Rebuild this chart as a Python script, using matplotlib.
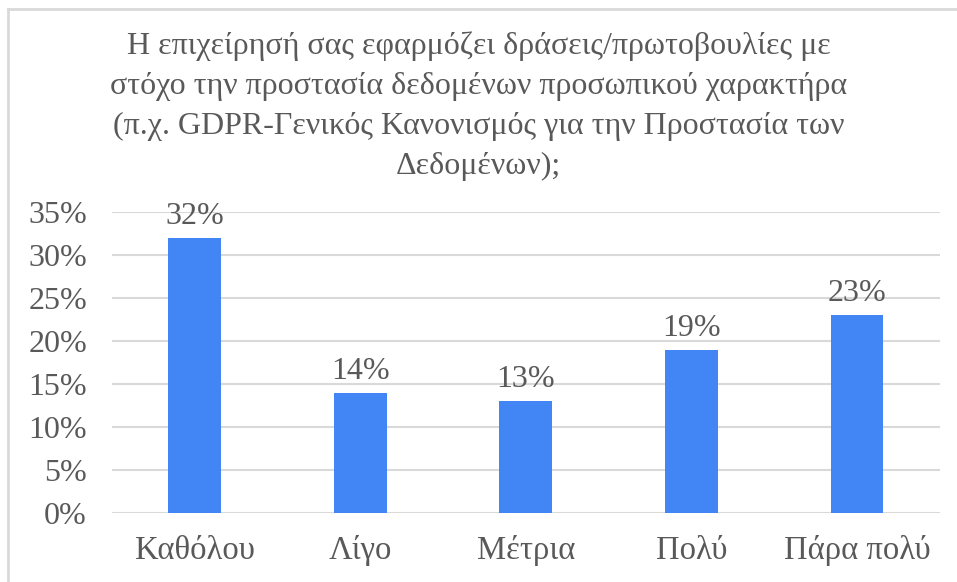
import matplotlib.pyplot as plt
from matplotlib.lines import Line2D
from matplotlib.ticker import PercentFormatter

categories = ["Καθόλου", "Λίγο", "Μέτρια", "Πολύ", "Πάρα πολύ"]
values = [0.32, 0.14, 0.13, 0.19, 0.23]
yticks = [0, 0.05, 0.10, 0.15, 0.20, 0.25, 0.30, 0.35]
title = ("Η επιχείρησή σας εφαρμόζει δράσεις/πρωτοβουλίες με\n"
         "στόχο την προστασία δεδομένων προσωπικού χαρακτήρα\n"
         "(π.χ. GDPR-Γενικός Κανονισμός για την Προστασία των\n"
         "Δεδομένων);")

plt.rcParams['font.family'] = ['Liberation Serif', 'DejaVu Serif']
txt = "#595959"

fig = plt.figure(figsize=(9.57, 5.82), dpi=100)
ax = fig.add_axes([0.117, 0.1186, 0.865, 0.5171])

bars = ax.bar(categories, values, width=0.32, color="#4285F4", zorder=3)
for b, v in zip(bars, values):
    ax.annotate(f"{v:.0%}", (b.get_x() + b.get_width() / 2, v),
                xytext=(0, 5), textcoords="offset points",
                ha="center", va="bottom", fontsize=23, color=txt)

ax.set_ylim(0, 0.35)
ax.set_xlim(-0.5, 4.5)
ax.set_yticks(yticks)
ax.yaxis.set_major_formatter(PercentFormatter(1.0, decimals=0))
ax.grid(axis="y", color="#D9D9D9", linewidth=1.5, zorder=0)
for s in ax.spines.values():
    s.set_visible(False)
ax.tick_params(axis="both", length=0, labelsize=23, labelcolor=txt)
ax.tick_params(axis="x", labelsize=23.5, pad=16)
ax.tick_params(axis="y", pad=18)

fig.text(0.5, 0.947, title, ha="center", va="top", fontsize=23,
         color=txt, linespacing=1.5)

# frame lines on the left and top, as in the screenshot
fig.add_artist(Line2D([8 / 957, 8 / 957], [0, 1 - 9 / 582],
                      transform=fig.transFigure, color="#D9D9D9", lw=2))
fig.add_artist(Line2D([8 / 957, 1], [1 - 9 / 582, 1 - 9 / 582],
                      transform=fig.transFigure, color="#D9D9D9", lw=2))

fig.savefig("out.png", dpi=100)
